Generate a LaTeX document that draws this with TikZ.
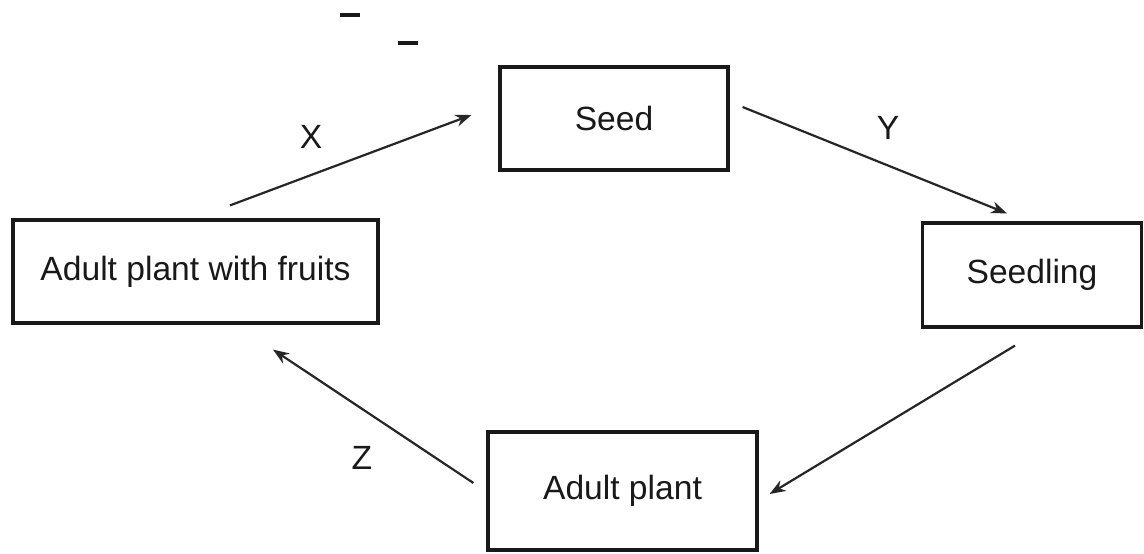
\documentclass[tikz,border=0pt]{standalone}
\usepackage{fontspec}
\setmainfont{Liberation Sans}
\usetikzlibrary{arrows.meta}
\begin{document}
\begin{tikzpicture}[x=1pt,y=-1pt,
  box/.style={draw=black!90, line width=3.2pt, rectangle, inner sep=0pt,
    font=\fontsize{33.6}{40}\selectfont, text=black!90},
  arr/.style={draw=black!85, line width=2.2pt, -{Stealth[length=16pt,width=12pt]}},
  lab/.style={font=\fontsize{33.6}{40}\selectfont, text=black!90, inner sep=0pt},
  speck/.style={draw=black!90, line width=3.5pt}]
\useasboundingbox[fill=white] (0,0) rectangle (1144,554);

\node[box, minimum width=228pt, minimum height=103pt] (seed) at (614,118.5) {Seed};
\node[box, minimum width=219pt, minimum height=104pt] (seedling) at (1032,275) {Seedling};
\node[box, minimum width=365pt, minimum height=103pt] (fruits) at (195.5,271.5) {Adult plant with fruits};
\node[box, minimum width=269pt, minimum height=118pt] (adult) at (622.5,491) {Adult plant};

\coordinate (xs) at ([shift={(34.5,-13)}]fruits.north);
\coordinate (xe) at ([shift={(-27,-3.5)}]seed.west);
\coordinate (ys) at ([shift={(13,-11.5)}]seed.east);
\coordinate (ye) at ([shift={(-25,-8)}]seedling.north);
\coordinate (ws) at ([shift={(-17,17)}]seedling.south);
\coordinate (we) at ([shift={(11,3)}]adult.east);
\coordinate (zs) at ([shift={(-13,-8)}]adult.west);
\coordinate (ze) at ([shift={(77.5,25)}]fruits.south);

\draw[arr] (xs) -- (xe);
\draw[arr] (ys) -- (ye);
\draw[arr] (ws) -- (we);
\draw[arr] (zs) -- (ze);

\node[lab] (lx) at (311,137) {X};
\node[lab] (ly) at (888,128) {Y};
\node[lab] (lz) at (362,458) {Z};

\coordinate (m1a) at (340,15); \coordinate (m1b) at (360,15);
\coordinate (m2a) at (398,43); \coordinate (m2b) at (418,43);
\draw[speck] (m1a) -- (m1b);
\draw[speck] (m2a) -- (m2b);
\end{tikzpicture}
\end{document}
